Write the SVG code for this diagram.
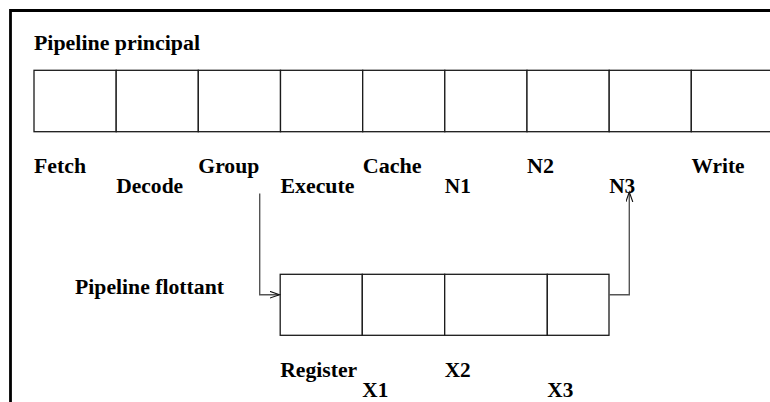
<svg xmlns="http://www.w3.org/2000/svg" width="770" height="402" viewBox="0 0 770 402">
  <defs>
    <style>
      .cell { fill: #ffffff; stroke: #1a1a1a; stroke-width: 1.3; }
      .lbl { font-family: "Liberation Serif", "Times New Roman", serif; font-weight: bold; font-size: 20px; fill: #000000; }
      .conn { fill: none; stroke: #555555; stroke-width: 1.4; }
      .frame { fill: none; stroke: #000000; stroke-width: 2.8; }
    </style>
    <marker id="arr" markerUnits="userSpaceOnUse" markerWidth="12" markerHeight="8" refX="10" refY="3.5" orient="auto">
      <path d="M0,0 L10,3.5 L0,7" fill="none" stroke="#111111" stroke-width="1.1"/>
    </marker>
  </defs>

  <rect width="770" height="402" fill="#ffffff"/>
  <path class="frame" d="M10.5,402 V10.5 H770"/>

  <text id="title-main" class="lbl" x="34" y="49.5" textLength="166" lengthAdjust="spacingAndGlyphs">Pipeline principal</text>

  <g id="main-pipeline">
    <g id="fetch"><rect class="cell" x="34" y="70.3" width="82.2" height="61.4"/><text class="lbl" x="34" y="172.7" textLength="52" lengthAdjust="spacingAndGlyphs">Fetch</text></g>
    <g id="decode"><rect class="cell" x="116.2" y="70.3" width="82.1" height="61.4"/><text class="lbl" x="116.2" y="192.7" textLength="67" lengthAdjust="spacingAndGlyphs">Decode</text></g>
    <g id="group"><rect class="cell" x="198.3" y="70.3" width="82.2" height="61.4"/><text class="lbl" x="198.3" y="172.7" textLength="61" lengthAdjust="spacingAndGlyphs">Group</text></g>
    <g id="execute"><rect class="cell" x="280.5" y="70.3" width="82.2" height="61.4"/><text class="lbl" x="280.5" y="192.7" textLength="74" lengthAdjust="spacingAndGlyphs">Execute</text></g>
    <g id="cache"><rect class="cell" x="362.7" y="70.3" width="82.1" height="61.4"/><text class="lbl" x="362.7" y="172.7" textLength="59" lengthAdjust="spacingAndGlyphs">Cache</text></g>
    <g id="n1"><rect class="cell" x="444.8" y="70.3" width="82.2" height="61.4"/><text class="lbl" x="444.8" y="192.7" textLength="26" lengthAdjust="spacingAndGlyphs">N1</text></g>
    <g id="n2"><rect class="cell" x="527" y="70.3" width="82.2" height="61.4"/><text class="lbl" x="527" y="172.7" textLength="27" lengthAdjust="spacingAndGlyphs">N2</text></g>
    <g id="n3"><rect class="cell" x="609.2" y="70.3" width="82.1" height="61.4"/><text class="lbl" x="609.2" y="192.7" textLength="26" lengthAdjust="spacingAndGlyphs">N3</text></g>
    <g id="write"><rect class="cell" x="691.3" y="70.3" width="82.2" height="61.4"/><text class="lbl" x="691.5" y="172.7" textLength="53" lengthAdjust="spacingAndGlyphs">Write</text></g>
  </g>

  <text id="title-float" class="lbl" x="75" y="294.3" textLength="149" lengthAdjust="spacingAndGlyphs">Pipeline flottant</text>

  <g id="float-pipeline">
    <g id="register"><rect class="cell" x="280.2" y="274.3" width="82.1" height="61"/><text class="lbl" x="280.2" y="376.7" textLength="77" lengthAdjust="spacingAndGlyphs">Register</text></g>
    <g id="x1"><rect class="cell" x="362.3" y="274.3" width="82.4" height="61"/><text class="lbl" x="362.3" y="397.3" textLength="26" lengthAdjust="spacingAndGlyphs">X1</text></g>
    <g id="x2"><rect class="cell" x="444.7" y="274.3" width="102.6" height="61"/><text class="lbl" x="444.7" y="376.7" textLength="26" lengthAdjust="spacingAndGlyphs">X2</text></g>
    <g id="x3"><rect class="cell" x="547.3" y="274.3" width="61.7" height="61"/><text class="lbl" x="547.3" y="397.3" textLength="26" lengthAdjust="spacingAndGlyphs">X3</text></g>
  </g>

  <g id="connectors">
    <path class="conn" d="M259.7,193.5 V294.7 H279.5" marker-end="url(#arr)"/>
    <path class="conn" d="M609.2,294.7 H629.3 V192" marker-end="url(#arr)"/>
  </g>
</svg>
